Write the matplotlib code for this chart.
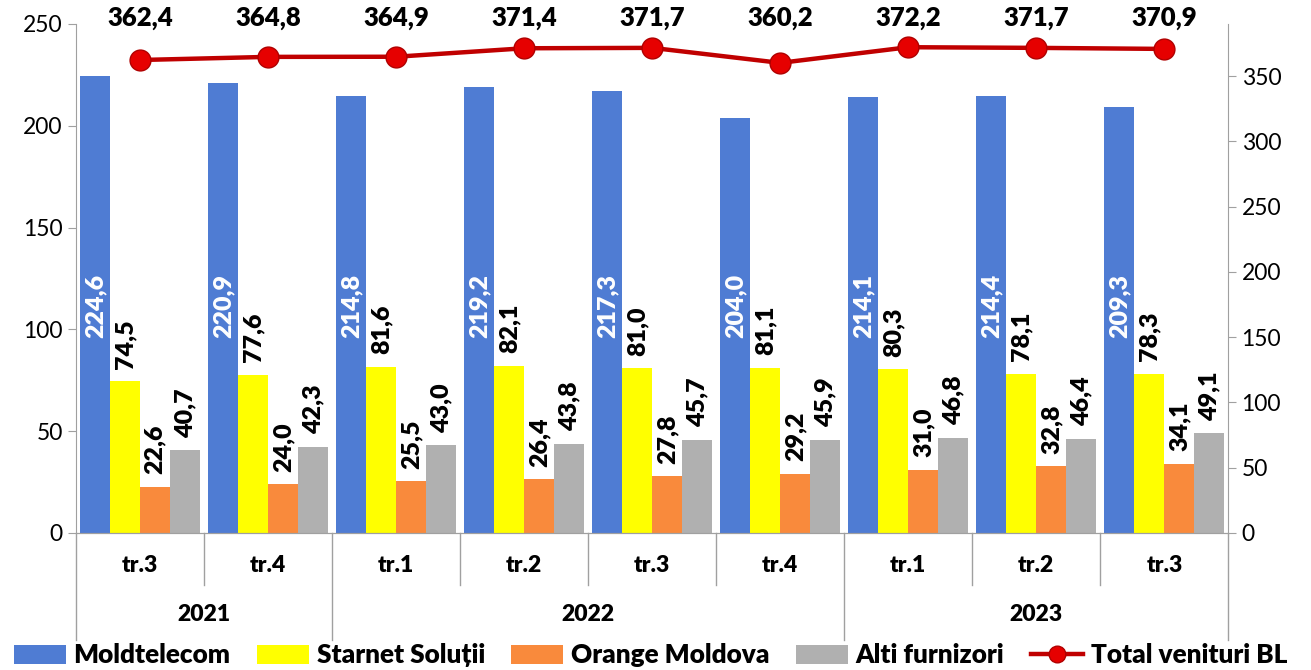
import numpy as np
import matplotlib.pyplot as plt
import matplotlib.transforms as mtransforms

plt.rcParams['font.family'] = ['Lato', 'DejaVu Sans']

quarters = ['tr.3', 'tr.4', 'tr.1', 'tr.2', 'tr.3', 'tr.4', 'tr.1', 'tr.2', 'tr.3']
years = ['2021', '2022', '2023']
year_span = [(0, 2), (2, 6), (6, 9)]  # quarter index ranges per year

moldtelecom = [224.6, 220.9, 214.8, 219.2, 217.3, 204.0, 214.1, 214.4, 209.3]
starnet = [74.5, 77.6, 81.6, 82.1, 81.0, 81.1, 80.3, 78.1, 78.3]
orange = [22.6, 24.0, 25.5, 26.4, 27.8, 29.2, 31.0, 32.8, 34.1]
alti = [40.7, 42.3, 43.0, 43.8, 45.7, 45.9, 46.8, 46.4, 49.1]
total = [362.4, 364.8, 364.9, 371.4, 371.7, 360.2, 372.2, 371.7, 370.9]

names = ['Moldtelecom', 'Starnet Soluții', 'Orange Moldova', 'Alti furnizori']
colors = ['#4F7CD3', '#FFFF00', '#F98A3C', '#B0B0B0']
BOLD = 'heavy'


def fmt(v):
    return f'{v:.1f}'.replace('.', ',')


fig = plt.figure(figsize=(13.11, 6.70), dpi=100)
ax = fig.add_axes([0.058, 0.2045, 0.879, 0.7597])
ax2 = ax.twinx()

x = np.arange(len(quarters))
w = 0.234
series = [moldtelecom, starnet, orange, alti]
bars = []
for i, (vals, c, n) in enumerate(zip(series, colors, names)):
    b = ax.bar(x + (i - 1.5) * w, vals, w, color=c, label=n, zorder=2)
    bars.append(b)

# data labels
for j in range(len(x)):
    ax.text(x[j] - 1.5 * w, 96, fmt(moldtelecom[j]), rotation=90, ha='center',
            va='bottom', color='white', fontsize=18, fontweight=BOLD, zorder=3)
    for i in (1, 2, 3):
        v = series[i][j]
        ax.annotate(fmt(v), (x[j] + (i - 1.5) * w, v), xytext=(0, 9),
                    textcoords='offset points', rotation=90, ha='center',
                    va='bottom', color='black', fontsize=18, fontweight=BOLD)

ax.set_xlim(-0.5, len(x) - 0.5)
ax.set_ylim(0, 250)
ax.set_yticks(np.arange(0, 251, 50))
ax.set_xticks([])
ax2.set_ylim(0, 390)
ax2.set_yticks(np.arange(0, 351, 50))

line, = ax2.plot(x, total, '-o', color='#C00000', lw=3.2, markersize=15,
                 markerfacecolor='#E60000', markeredgecolor='#B00000',
                 markeredgewidth=1, label='Total venituri BL', zorder=5)
tr = mtransforms.blended_transform_factory(ax.transData, ax.transAxes)
for j, v in enumerate(total):
    ax.text(x[j], 1.012, fmt(v), transform=tr, ha='center', va='center',
            fontsize=18.5, fontweight=BOLD, clip_on=False)

for a in (ax, ax2):
    a.tick_params(axis='y', labelsize=16.5, color='#A0A0A0', length=6)
    a.spines['top'].set_visible(False)
    for s in a.spines.values():
        s.set_color('#A0A0A0')
ax2.spines['left'].set_visible(False)
ax.spines['right'].set_visible(False)
ax2.set_zorder(3)
ax2.patch.set_visible(False)

# multi-level category axis
starts = [s[0] for s in year_span]
for j in range(len(x) + 1):
    pos = j - 0.5
    is_year = j in starts or j == len(x)
    ax.plot([pos, pos], [0, -0.21 if is_year else -0.102], transform=tr,
            color='#A0A0A0', lw=1, clip_on=False)
for j, q in enumerate(quarters):
    ax.text(x[j], -0.063, q, transform=tr, ha='center', va='center',
            fontsize=16.5, fontweight=BOLD)
for yname, (a0, a1) in zip(years, year_span):
    ax.text((a0 + a1 - 1) / 2, -0.161, yname, transform=tr, ha='center',
            va='center', fontsize=16.5, fontweight=BOLD)

handles = bars + [line]
labels = names + ['Total venituri BL']
fig.legend(handles, labels, loc='center', bbox_to_anchor=(0.496, 0.022), ncol=5,
           frameon=False, prop={'weight': BOLD, 'size': 18.8},
           handlelength=2.0, handleheight=0.75, columnspacing=1.0,
           handletextpad=0.3, borderaxespad=0, borderpad=0, markerscale=0.8)

fig.savefig('out.png', dpi=100)
